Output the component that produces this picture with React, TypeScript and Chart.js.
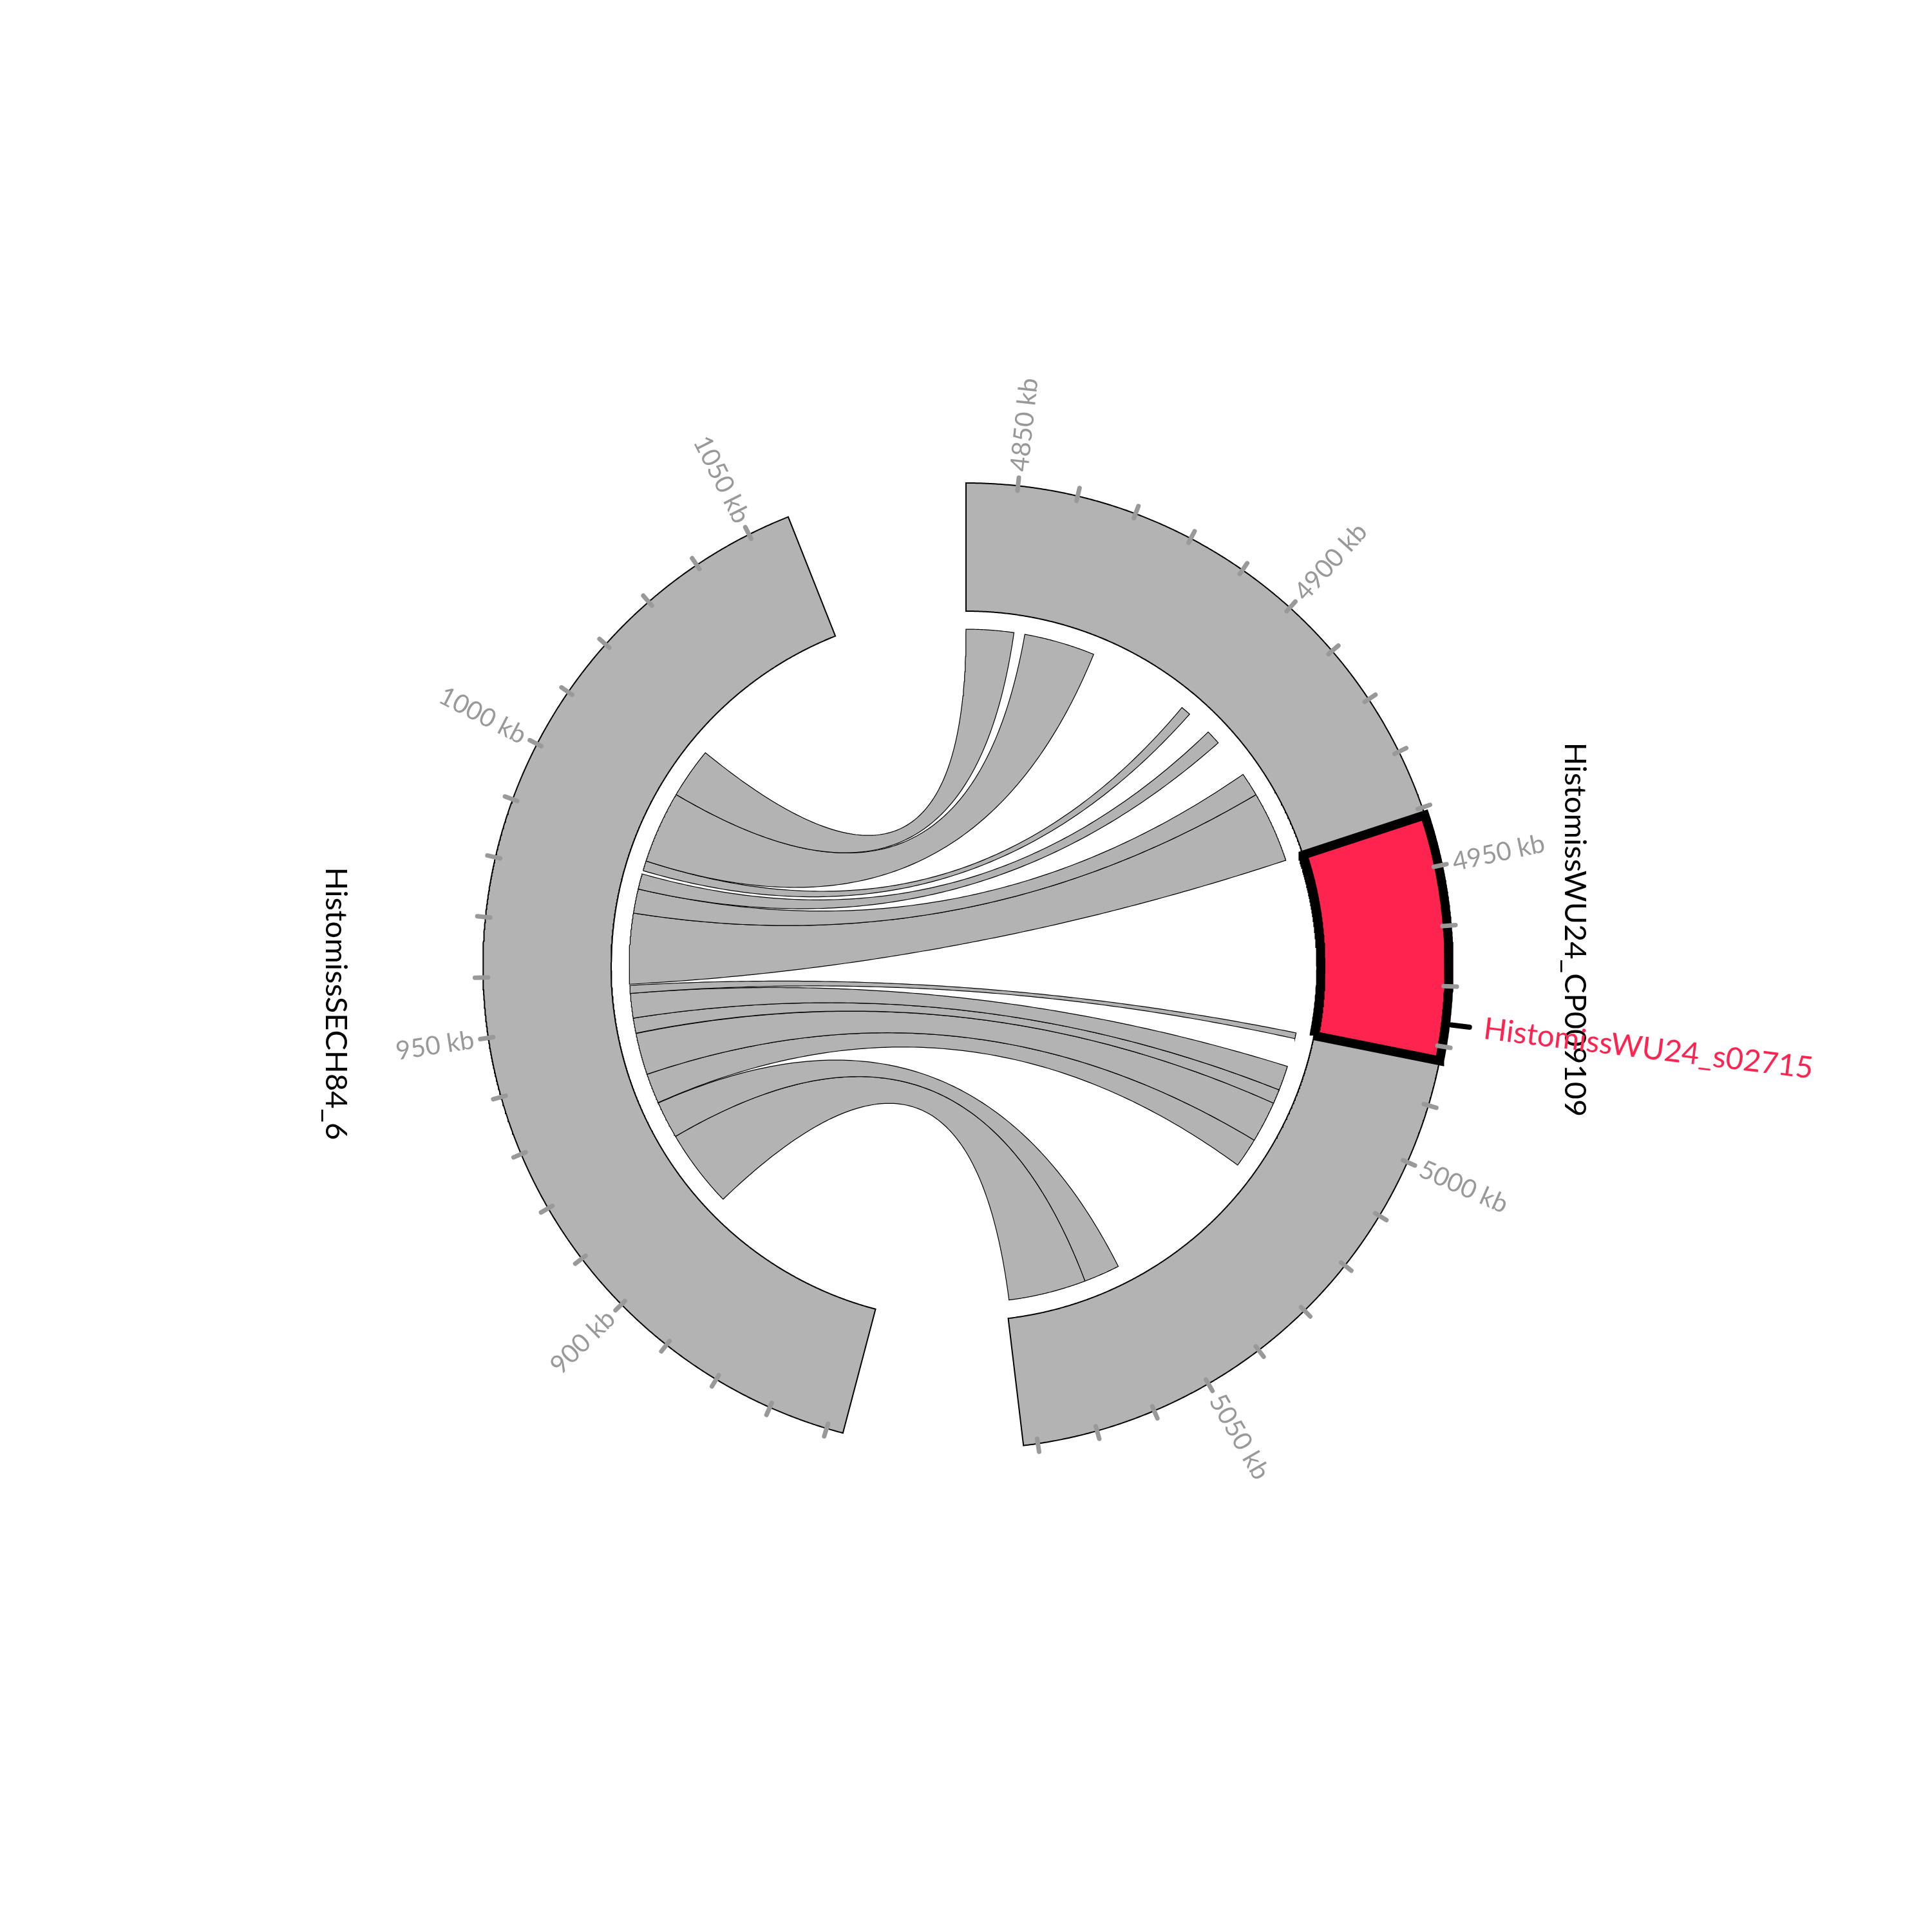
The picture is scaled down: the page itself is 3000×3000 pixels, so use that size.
import React, { useEffect, useRef } from "react";
import { Chart, registerables } from "chart.js";

Chart.register(...registerables);

// ---------------- data ----------------
const sectorNames = ["HistomissWU24_CP009109", "HistomissSECH84_6"];
const sectorStartKb = [4841.4, 857.2];
const sectorEndKb = [5082.4, 1057.1];
const gapDegrees = 21.6;

const highlightName = "HistomissWU24_s02715";
const highlightStartKb = 4941.3;
const highlightEndKb = 4982.4;
const highlightMarkKb = 4976.3;

// links: region on HistomissWU24_CP009109 <-> region on HistomissSECH84_6 (kb)
const linkWU24Start = [4841.4, 4855.4, 4896.9, 4905.4, 4918.4, 4924.1, 4982.6, 4990.8, 4996.7, 5000.1, 5010.0, 5054.5, 5063.1];
const linkWU24End = [4852.8, 4872.4, 4899.3, 4908.9, 4924.1, 4941.2, 4984.0, 4996.7, 5000.1, 5010.0, 5017.1, 5063.1, 5081.7];
const linkSECHStart = [1004.5, 987.2, 984.8, 980.3, 974.5, 957.6, 955.4, 949.5, 945.9, 935.8, 928.6, 919.6, 900.9];
const linkSECHEnd = [1016.6, 1004.5, 987.2, 984.0, 980.3, 974.5, 957.3, 955.4, 949.5, 945.8, 935.8, 928.5, 919.6];

const tickStepKb = 10;
const wu24TickValues = [4850, 4900, 4950, 5000, 5050];
const wu24TickLabels = ["4850 kb", "4900 kb", "4950 kb", "5000 kb", "5050 kb"];
const sechTickValues = [900, 950, 1000, 1050];
const sechTickLabels = ["900 kb", "950 kb", "1000 kb", "1050 kb"];

// ---------------- layout / style ----------------
const R_OUT = 1;
const R_IN = 0.7347;
const R_LINK = 0.6973;
const TICK_R0 = 0.99;
const TICK_R1 = 1.017;
const TICK_LABEL_R = 1.03;
const MARK_R0 = 1.012;
const MARK_R1 = 1.05;
const MARK_LABEL_R = 1.08;
const SECTOR_LABEL_R = [1.262, 1.307];
const GREY = "#b3b3b3";
const RED = "#ff2450";
const TICK_GREY = "#999999";
const FONT = "Lato";

const totalKb = sectorEndKb.reduce((s, e, i) => s + (e - sectorStartKb[i]), 0);
const degPerKb = (360 - gapDegrees * sectorNames.length) / totalKb;
const sectorStartDeg: number[] = [];
{
  let acc = 0;
  for (let i = 0; i < sectorNames.length; i++) {
    sectorStartDeg.push(acc);
    acc += (sectorEndKb[i] - sectorStartKb[i]) * degPerKb + gapDegrees;
  }
}
const ang = (s: number, kb: number) => sectorStartDeg[s] + (kb - sectorStartKb[s]) * degPerKb;
const polar = (deg: number, r: number) => {
  const a = (deg * Math.PI) / 180;
  return { x: r * Math.sin(a), y: r * Math.cos(a) };
};

function arcPts(d1: number, d2: number, r: number) {
  const n = Math.max(2, Math.ceil(Math.abs(d2 - d1) / 0.2));
  const out = [];
  for (let k = 0; k <= n; k++) out.push(polar(d1 + ((d2 - d1) * k) / n, r));
  return out;
}

function bezPts(d1: number, d2: number, r: number) {
  const p0 = polar(d1, r);
  const p2 = polar(d2, r);
  const n = 120;
  const out = [];
  for (let k = 0; k <= n; k++) {
    const t = k / n;
    const a = (1 - t) * (1 - t);
    const c = t * t;
    // control point at the circle centre (0,0)
    out.push({ x: a * p0.x + c * p2.x, y: a * p0.y + c * p2.y });
  }
  return out;
}

function blockPts(d1: number, d2: number, rIn: number, rOut: number) {
  const mid = (d1 + d2) / 2;
  return [...arcPts(mid, d2, rOut), ...arcPts(d2, d1, rIn), ...arcPts(d1, mid, rOut)];
}

function ribbonPts(i: number) {
  const a1 = ang(1, linkSECHStart[i]);
  const a2 = ang(1, linkSECHEnd[i]);
  const b1 = ang(0, linkWU24Start[i]);
  const b2 = ang(0, linkWU24End[i]);
  const pts = [...arcPts(a1, a2, R_LINK), ...bezPts(a2, b1, R_LINK), ...arcPts(b1, b2, R_LINK), ...bezPts(b2, a1, R_LINK)];
  pts.push(pts[0]);
  return pts;
}

function buildDatasets() {
  const ds: any[] = [];
  const base = { pointRadius: 0, pointHoverRadius: 0, tension: 0, showLine: true };
  // ribbons
  for (let i = 0; i < linkWU24Start.length; i++) {
    ds.push({ ...base, data: ribbonPts(i), fill: "shape", backgroundColor: GREY, borderColor: "#000", borderWidth: 1.2, order: 6 });
  }
  // sector blocks
  for (let s = 0; s < sectorNames.length; s++) {
    ds.push({
      ...base,
      data: blockPts(ang(s, sectorStartKb[s]), ang(s, sectorEndKb[s]), R_IN, R_OUT),
      fill: "shape",
      backgroundColor: GREY,
      borderColor: "#000",
      borderWidth: 2,
      order: 5,
    });
  }
  // highlight block
  ds.push({
    ...base,
    data: blockPts(ang(0, highlightStartKb), ang(0, highlightEndKb), R_IN, R_OUT),
    fill: "shape",
    backgroundColor: RED,
    borderColor: "#000",
    borderWidth: 14,
    borderJoinStyle: "miter",
    order: 4,
  });
  // highlight mark line
  const md = ang(0, highlightMarkKb);
  ds.push({
    ...base,
    data: [polar(md, MARK_R0), polar(md, MARK_R1)],
    fill: false,
    borderColor: "#000",
    borderWidth: 8,
    borderCapStyle: "round",
    order: 3,
  });
  // ticks
  for (let s = 0; s < sectorNames.length; s++) {
    const first = Math.ceil(sectorStartKb[s] / tickStepKb) * tickStepKb;
    for (let kb = first; kb <= sectorEndKb[s]; kb += tickStepKb) {
      const d = ang(s, kb);
      ds.push({
        ...base,
        data: [polar(d, TICK_R0), polar(d, TICK_R1)],
        fill: false,
        borderColor: TICK_GREY,
        borderWidth: 7,
        borderCapStyle: "round",
        order: 1,
      });
    }
  }
  return ds;
}

const textPlugin = {
  id: "circosText",
  afterDatasetsDraw(chart: any) {
    const ctx = chart.ctx;
    const xs = chart.scales.x;
    const ys = chart.scales.y;
    const px = (p: { x: number; y: number }) => [xs.getPixelForValue(p.x), ys.getPixelForValue(p.y)];
    const drawText = (txt: string, deg: number, r: number, rot: number, align: string, color: string, font: string) => {
      const [x, y] = px(polar(deg, r));
      ctx.save();
      ctx.translate(x, y);
      ctx.rotate((rot * Math.PI) / 180);
      ctx.fillStyle = color;
      ctx.font = font;
      ctx.textAlign = align;
      ctx.textBaseline = "middle";
      ctx.fillText(txt, 0, 0);
      ctx.restore();
    };
    // tick labels
    const tickSets = [
      { s: 0, v: wu24TickValues, l: wu24TickLabels },
      { s: 1, v: sechTickValues, l: sechTickLabels },
    ];
    const tickFont = `400 40px ${FONT}`;
    for (const t of tickSets) {
      t.v.forEach((kb, i) => {
        const d = ang(t.s, kb);
        if (d < 180) drawText(t.l[i], d, TICK_LABEL_R, d - 90, "left", TICK_GREY, tickFont);
        else drawText(t.l[i], d, TICK_LABEL_R, d + 90, "right", TICK_GREY, tickFont);
      });
    }
    // sector labels
    sectorNames.forEach((name, s) => {
      const mid = (ang(s, sectorStartKb[s]) + ang(s, sectorEndKb[s])) / 2;
      drawText(name, mid, SECTOR_LABEL_R[s], 90, "center", "#000", `400 47px ${FONT}`);
    });
    // highlight label
    const md = ang(0, highlightMarkKb);
    drawText(highlightName, md, MARK_LABEL_R, md - 90, "left", RED, `400 47px ${FONT}`);
  },
};

export default function App() {
  const ref = useRef<HTMLCanvasElement | null>(null);
  useEffect(() => {
    if (!ref.current) return;
    const chart = new Chart(ref.current, {
      type: "line",
      data: { datasets: buildDatasets() },
      options: {
        responsive: false,
        maintainAspectRatio: false,
        devicePixelRatio: 1,
        animation: false,
        events: [],
        layout: { padding: 0 },
        plugins: { legend: { display: false }, tooltip: { enabled: false } },
        scales: {
          x: { type: "linear", min: -2, max: 2, display: false },
          y: { type: "linear", min: -2, max: 2, display: false },
        },
      },
      plugins: [textPlugin],
    } as any);
    return () => chart.destroy();
  }, []);
  return (
    <div style={{ position: "absolute", left: 0, top: 0, width: 3000, height: 3000, background: "#fff" }}>
      <canvas ref={ref} width={3000} height={3000} style={{ width: 3000, height: 3000, display: "block" }} />
    </div>
  );
}
